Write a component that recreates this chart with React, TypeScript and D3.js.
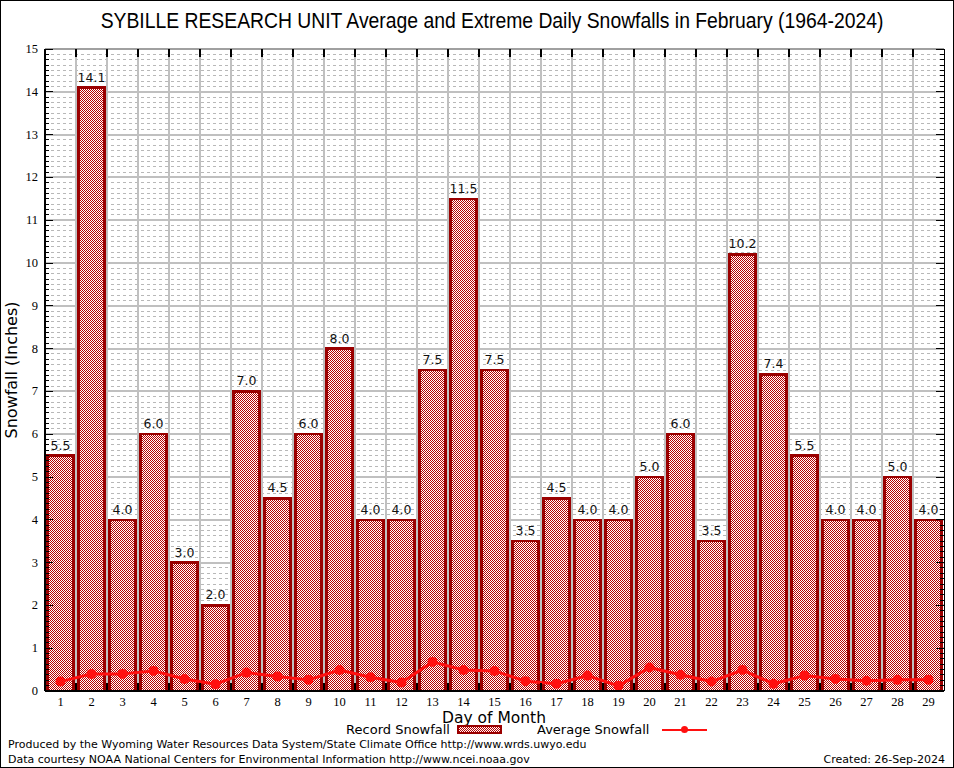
import { range, scaleBand, scaleLinear, line } from "d3";
import type { ReactElement } from "react";

const days = range(1, 30).map(String);
const recordSnow = [
  5.5, 14.1, 4.0, 6.0, 3.0, 2.0, 7.0, 4.5, 6.0, 8.0, 4.0, 4.0, 7.5, 11.5, 7.5,
  3.5, 4.5, 4.0, 4.0, 5.0, 6.0, 3.5, 10.2, 7.4, 5.5, 4.0, 4.0, 5.0, 4.0,
];
const avgSnow = [
  0.22, 0.4, 0.4, 0.47, 0.28, 0.16, 0.43, 0.34, 0.26, 0.49, 0.32, 0.2, 0.68,
  0.49, 0.47, 0.23, 0.17, 0.36, 0.12, 0.55, 0.38, 0.22, 0.49, 0.17, 0.36, 0.28,
  0.24, 0.26, 0.26,
];
const yTicks = range(0, 16);

const W = 954;
const H = 768;
const M = { left: 45, right: 944, top: 49, bottom: 691 };

const SANS = "'DejaVu Sans', sans-serif";
const SERIF = "'Liberation Serif', 'DejaVu Serif', serif";
const BAR_RED = "#9a0000";
const LINE_RED = "#ff1010";
const GRID = "#c0c0c0";

export default function App(): ReactElement {
  const x = scaleBand<string>().domain(days).range([M.left, M.right]).paddingInner(0.16).paddingOuter(0.08);
  const xb = scaleBand<string>().domain(days).range([M.left, M.right]);
  const y = scaleLinear().domain([0, 15]).range([M.bottom, M.top]);

  const minorTicks = range(0, 15 * 8 + 1).map((i) => i / 8).filter((v) => v % 1 !== 0);
  const boundaries = days.slice(1).map((d) => xb(d) ?? 0);

  const avgLine = line<number>()
    .x((_, i) => (xb(days[i]) ?? 0) + xb.bandwidth() / 2)
    .y((d) => y(d));

  return (
    <div style={{ position: "absolute", left: 0, top: 0 }}>
      <svg width={W} height={H} viewBox={`0 0 ${W} ${H}`} style={{ display: "block" }} shapeRendering="crispEdges">
        <defs>
          <pattern id="checker" width={2} height={2} patternUnits="userSpaceOnUse">
            <rect width={2} height={2} fill="#ffffff" />
            <rect width={1} height={1} fill="#b80000" />
            <rect x={1} y={1} width={1} height={1} fill="#b80000" />
          </pattern>
        </defs>
        <rect x={0.5} y={0.5} width={W - 1} height={H - 1} fill="#fff" stroke="#000" />

        {/* minor dashed grid */}
        {minorTicks.map((v) => (
          <line key={`mg${v}`} x1={M.left} x2={M.right} y1={y(v)} y2={y(v)}
            stroke="#b8b8b8" strokeWidth={1} strokeDasharray="3,3" />
        ))}
        {/* major grid */}
        {yTicks.slice(1).map((v) => (
          <line key={`g${v}`} x1={M.left} x2={M.right} y1={y(v)} y2={y(v)} stroke={GRID} strokeWidth={2} />
        ))}
        {boundaries.map((bx, i) => (
          <line key={`vg${i}`} x1={bx} x2={bx} y1={M.top} y2={M.bottom} stroke={GRID} strokeWidth={2} />
        ))}

        {/* bars */}
        {recordSnow.map((v, i) => {
          const bx = x(days[i]) ?? 0;
          return (
            <g key={`b${i}`}>
              <rect x={bx} y={y(v)} width={x.bandwidth()} height={y(0) - y(v)}
                fill="url(#checker)" stroke={BAR_RED} strokeWidth={2.5} />
              <text x={bx + x.bandwidth() / 2} y={y(v) - 6} textAnchor="middle" shapeRendering="auto"
                fontFamily={SANS} fontSize={12.5} fill="#111">{v.toFixed(1)}</text>
            </g>
          );
        })}

        {/* average line */}
        <g shapeRendering="auto">
          <path d={avgLine(avgSnow) ?? ""} fill="none" stroke={LINE_RED} strokeWidth={3} strokeLinejoin="round" />
          {avgSnow.map((v, i) => (
            <circle key={`c${i}`} cx={(xb(days[i]) ?? 0) + xb.bandwidth() / 2} cy={y(v)} r={5} fill={LINE_RED} />
          ))}
        </g>

        {/* frame */}
        <line x1={M.left} x2={M.right} y1={M.top} y2={M.top} stroke="#a0a0a0" strokeWidth={2} />
        <line x1={M.left} x2={M.left} y1={M.top} y2={M.bottom} stroke="#000" strokeWidth={2} />
        <line x1={M.right} x2={M.right} y1={M.top} y2={M.bottom} stroke="#000" strokeWidth={1} />
        <line x1={M.left} x2={M.right} y1={M.bottom} y2={M.bottom} stroke="#000" strokeWidth={2} />

        {/* y ticks */}
        {minorTicks.map((v) => (
          <g key={`mt${v}`}>
            <line x1={M.left} x2={M.left + 4} y1={y(v)} y2={y(v)} stroke="#000" strokeWidth={1} />
            <line x1={M.right - 4} x2={M.right} y1={y(v)} y2={y(v)} stroke="#000" strokeWidth={1} />
          </g>
        ))}
        {yTicks.map((v) => (
          <g key={`t${v}`}>
            <line x1={M.left} x2={M.left + 8} y1={y(v)} y2={y(v)} stroke="#000" strokeWidth={1} />
            <line x1={M.right - 8} x2={M.right} y1={y(v)} y2={y(v)} stroke="#000" strokeWidth={1} />
            <text x={38} y={y(v) + 4} textAnchor="end" fontFamily={SERIF} fontSize={12.5} fill="#000">{v}</text>
          </g>
        ))}

        {/* x ticks */}
        {boundaries.map((bx, i) => (
          <g key={`xt${i}`}>
            <line x1={bx} x2={bx} y1={M.bottom} y2={M.bottom - 8} stroke="#000" strokeWidth={1.5} />
            <line x1={bx} x2={bx} y1={M.top} y2={M.top + 8} stroke="#000" strokeWidth={1.5} />
          </g>
        ))}
        {days.map((d) => (
          <text key={`xl${d}`} x={(xb(d) ?? 0) + xb.bandwidth() / 2} y={706} textAnchor="middle"
            fontFamily={SERIF} fontSize={12.5} fill="#000">{d}</text>
        ))}

        {/* titles */}
        <text transform="translate(492,28) scale(0.9,1)" textAnchor="middle"
          fontFamily="'Liberation Sans', Arial, sans-serif"
          fontSize={21.5} fill="#000">SYBILLE RESEARCH UNIT Average and Extreme Daily Snowfalls in February (1964-2024)</text>
        <text transform={`translate(17,${(M.top + M.bottom) / 2}) rotate(-90)`} textAnchor="middle"
          fontFamily={SANS} fontSize={16} fill="#000">Snowfall (Inches)</text>
        <text x={494} y={723} textAnchor="middle" fontFamily={SANS} fontSize={15.5} fill="#000">Day of Month</text>

        {/* legend */}
        <text x={450} y={734} textAnchor="end" fontFamily={SANS} fontSize={13} fill="#000">Record Snowfall</text>
        <rect x={458} y={726} width={43} height={7} fill="url(#checker)" stroke={BAR_RED} strokeWidth={2} />
        <text x={537} y={734} fontFamily={SANS} fontSize={13} fill="#000">Average Snowfall</text>
        <line x1={662} x2={707} y1={729.5} y2={729.5} stroke={LINE_RED} strokeWidth={2} />
        <circle cx={684.5} cy={729.5} r={3.5} fill={LINE_RED} shapeRendering="auto" />

        {/* footer */}
        <text x={8} y={748} fontFamily={SANS} fontSize={11} fill="#000">Produced by the Wyoming Water Resources Data System/State Climate Office http://www.wrds.uwyo.edu</text>
        <text x={8} y={763} fontFamily={SANS} fontSize={11} fill="#000">Data courtesy NOAA National Centers for Environmental Information http://www.ncei.noaa.gov</text>
        <text x={945} y={763} textAnchor="end" fontFamily={SANS} fontSize={11} fill="#000">Created: 26-Sep-2024</text>
      </svg>
    </div>
  );
}
